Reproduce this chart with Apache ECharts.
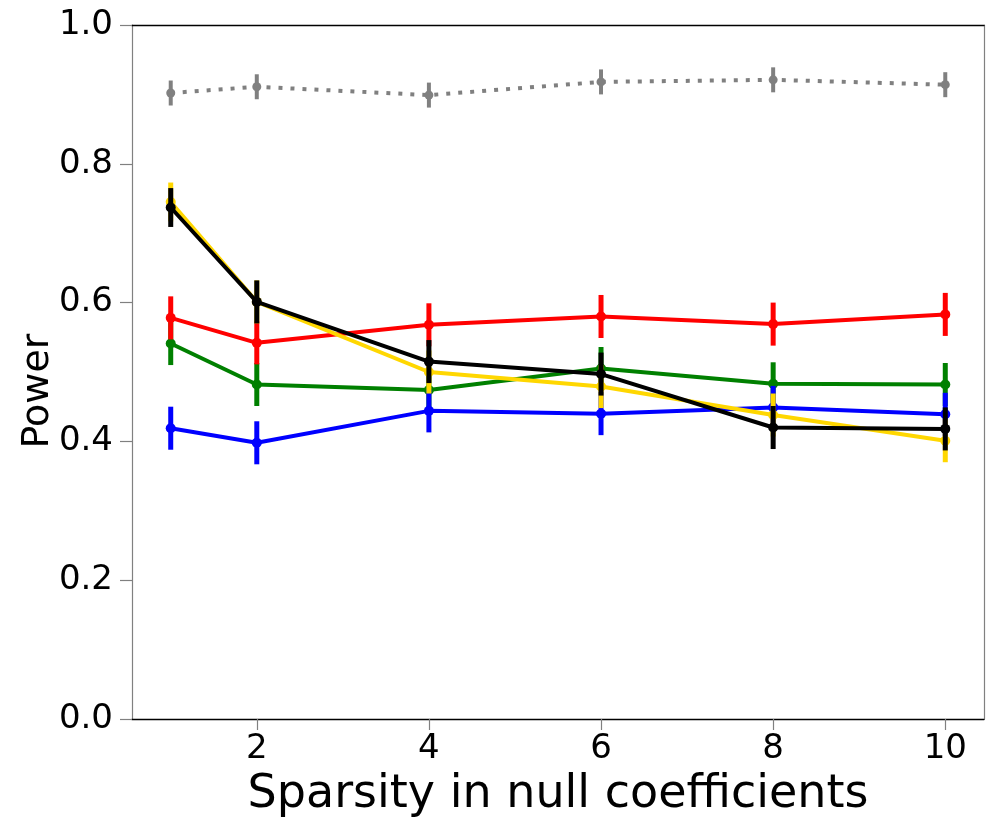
<!DOCTYPE html>
<html>
<head>
<meta charset="utf-8">
<script src="https://cdn.jsdelivr.net/npm/echarts@6/dist/echarts.min.js"></script>
<style>html,body{margin:0;padding:0;background:#fff;}#c{width:997px;height:830px;}</style>
</head>
<body>
<div id="c"></div>
<script>
var xValues = [1, 2, 4, 6, 8, 10];
var xTickValues = [2, 4, 6, 8, 10];
var yTickValues = [0, 0.2, 0.4, 0.6, 0.8, 1.0];
var xTitle = 'Sparsity in null coefficients';
var yTitle = 'Power';

var grayVals   = [0.902, 0.911, 0.899, 0.918, 0.921, 0.914];
var grayErr    = [0.018, 0.018, 0.018, 0.018, 0.018, 0.018];
var greenVals  = [0.541, 0.482, 0.474, 0.505, 0.483, 0.482];
var greenErr   = [0.031, 0.031, 0.031, 0.031, 0.031, 0.031];
var blueVals   = [0.419, 0.398, 0.444, 0.440, 0.449, 0.439];
var blueErr    = [0.031, 0.031, 0.031, 0.031, 0.031, 0.031];
var redVals    = [0.578, 0.542, 0.568, 0.580, 0.569, 0.583];
var redErr     = [0.031, 0.031, 0.031, 0.031, 0.031, 0.031];
var yellowVals = [0.745, 0.601, 0.500, 0.479, 0.438, 0.401];
var yellowErr  = [0.028, 0.031, 0.031, 0.031, 0.031, 0.031];
var blackVals  = [0.737, 0.601, 0.515, 0.497, 0.420, 0.418];
var blackErr   = [0.028, 0.031, 0.031, 0.031, 0.031, 0.031];

var groups = [
  {vals: grayVals, err: grayErr, color: '#808080', dotted: true},
  {vals: greenVals, err: greenErr, color: '#008000'},
  {vals: blueVals, err: blueErr, color: '#0000ff'},
  {vals: redVals, err: redErr, color: '#ff0000'},
  {vals: yellowVals, err: yellowErr, color: '#ffd700'},
  {vals: blackVals, err: blackErr, color: '#000000'}
];

var FONT = 'DejaVu Sans';
var series = [];
groups.forEach(function (g, gi) {
  var errData = xValues.map(function (x, i) { return [x, g.vals[i] - g.err[i], g.vals[i] + g.err[i]]; });
  var lineData = xValues.map(function (x, i) { return [x, g.vals[i]]; });
  series.push({
    type: 'custom',
    xAxisIndex: 0, yAxisIndex: 0,
    z: 2 + gi * 2,
    silent: true,
    data: errData,
    renderItem: function (params, api) {
      var p1 = api.coord([api.value(0), api.value(1)]);
      var p2 = api.coord([api.value(0), api.value(2)]);
      return {
        type: 'line',
        shape: {x1: p1[0], y1: p1[1], x2: p2[0], y2: p2[1]},
        style: {stroke: g.color, lineWidth: g.dotted ? 4 : 5}
      };
    }
  });
  series.push({
    type: 'line',
    xAxisIndex: 0, yAxisIndex: 0,
    z: 3 + gi * 2,
    data: lineData,
    symbol: 'circle',
    symbolSize: g.dotted ? 9 : 10,
    showSymbol: true,
    silent: true,
    animation: false,
    itemStyle: {color: g.color},
    lineStyle: g.dotted ? {color: g.color, width: 4, type: [4, 8]} : {color: g.color, width: 4}
  });
});

var chart = echarts.init(document.getElementById('c'), null, {renderer: 'canvas'});
chart.setOption({
  animation: false,
  backgroundColor: '#ffffff',
  grid: {left: 132, right: 13, top: 25, bottom: 111, containLabel: false},
  graphic: [{
    type: 'text',
    x: 38, y: 391,
    rotation: Math.PI / 2,
    style: {text: yTitle, fontFamily: FONT, fontSize: 38, fill: '#000', align: 'center', verticalAlign: 'middle'}
  }],
  xAxis: [{
    type: 'value', min: 0.55, max: 10.45,
    position: 'bottom',
    name: xTitle,
    nameLocation: 'middle', nameGap: 53,
    nameTextStyle: {fontFamily: FONT, fontSize: 46, color: '#000'},
    axisLine: {show: true, onZero: false, lineStyle: {color: '#000', width: 1.3}},
    axisTick: {show: true, length: 11, lineStyle: {color: '#808080', width: 1.2}, customValues: xTickValues},
    axisLabel: {show: true, fontFamily: FONT, fontSize: 34, color: '#000', margin: 13, customValues: xTickValues},
    splitLine: {show: false}
  }, {
    type: 'value', min: 0.55, max: 10.45,
    position: 'top',
    axisLine: {show: true, onZero: false, lineStyle: {color: '#000', width: 1.3}},
    axisTick: {show: false}, axisLabel: {show: false}, splitLine: {show: false}
  }],
  yAxis: [{
    type: 'value', min: 0, max: 1, interval: 0.2,
    position: 'left',
    axisLine: {show: true, onZero: false, lineStyle: {color: '#808080', width: 1.2}},
    axisTick: {show: true, length: 12, lineStyle: {color: '#808080', width: 1.2}},
    axisLabel: {show: true, fontFamily: FONT, fontSize: 34, color: '#000', margin: 19,
      formatter: function (v) { return v.toFixed(1); }},
    splitLine: {show: false}
  }, {
    type: 'value', min: 0, max: 1,
    position: 'right',
    axisLine: {show: true, onZero: false, lineStyle: {color: '#808080', width: 1.2}},
    axisTick: {show: false}, axisLabel: {show: false}, splitLine: {show: false}
  }],
  series: series
});
</script>
</body>
</html>
